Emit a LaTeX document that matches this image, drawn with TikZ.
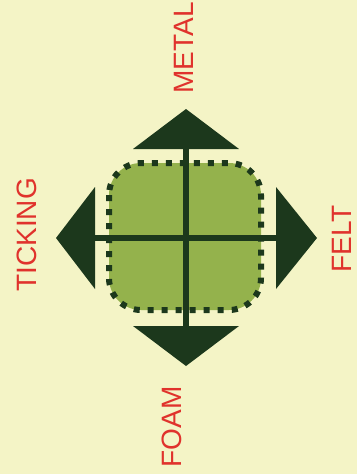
\documentclass[tikz,border=0pt]{standalone}
\usepackage{fontspec}
\setmainfont{Liberation Sans}
\definecolor{bgyellow}{HTML}{F4F4C6}
\definecolor{padgreen}{HTML}{94B24C}
\definecolor{darkgreen}{HTML}{1C381C}
\definecolor{labelred}{HTML}{E0322C}
\tikzset{
  arrowhead/.style={fill=darkgreen, draw=none},
  crossline/.style={draw=darkgreen, line width=5.5pt},
  padbox/.style={fill=padgreen, draw=darkgreen, line width=6pt, dash pattern=on 6pt off 8pt, rounded corners=32pt},
  lbl/.style={text=labelred, font=\fontsize{28}{30}\selectfont, inner sep=0pt, rotate=90, anchor=center}
}
\begin{document}
\begin{tikzpicture}[x=1pt, y=-1pt]
\useasboundingbox[fill=bgyellow] (0,0) rectangle (357,474);
% pad
\path[padbox] (109,163) rectangle (261,310);
% arrowheads
\fill[arrowhead] (133,149) -- (186,109) -- (239,149) -- cycle;
\fill[arrowhead] (133,326) -- (186,366) -- (239,326) -- cycle;
\fill[arrowhead] (95,187) -- (56,238) -- (95,289) -- cycle;
\fill[arrowhead] (276,187) -- (317,238) -- (276,289) -- cycle;
\coordinate (top) at (186,149);
\coordinate (bot) at (186,326);
\coordinate (lft) at (95,238);
\coordinate (rgt) at (276,238);
% cross
\draw[crossline] (top) -- (bot);
\draw[crossline] (lft) -- (rgt);
% labels
\node[lbl] (metal) at (184,48) {METAL};
\node[lbl] (ticking) at (27,235) {TICKING};
\node[lbl] (felt) at (342,239) {FELT};
\node[lbl] (foam) at (172,427) {FOAM};
\end{tikzpicture}
\end{document}
